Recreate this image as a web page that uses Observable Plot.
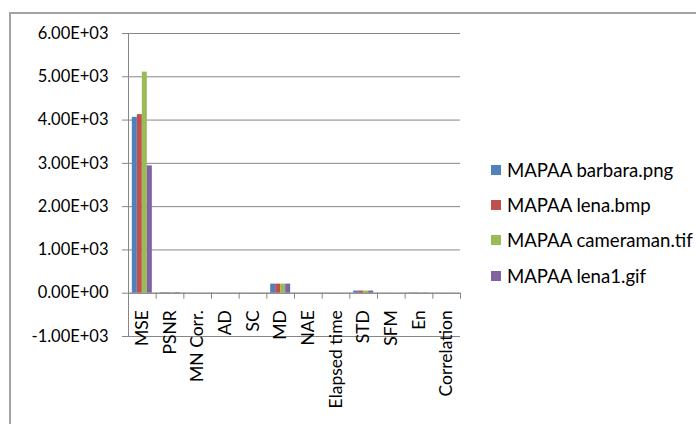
<!DOCTYPE html>
<html>
<head>
<meta charset="utf-8">
<script src="https://cdn.jsdelivr.net/npm/d3@7"></script>
<script src="https://cdn.jsdelivr.net/npm/@observablehq/plot@0.6"></script>
<style>
  html, body { margin: 0; padding: 0; background: #fff; }
  #wrap { position: relative; width: 696px; height: 424px; overflow: hidden; font-family: Lato, "Open Sans", sans-serif; }
  #chart { position: absolute; left: 0; top: 0; }
  #border { position: absolute; left: 9px; top: 12px; width: 720px; height: 440px;
            border-left: 2px solid #a3a3a3; border-top: 2px solid #a3a3a3; box-sizing: border-box; pointer-events: none; }
  #legend { position: absolute; left: 491px; top: 152px; }
  .row { display: flex; align-items: center; height: 35.3px; font-size: 18.6px; color: #000; }
  .swatch { width: 10px; height: 10px; margin-right: 6px; flex: none; }
</style>
</head>
<body>
<div id="wrap">
  <div id="chart"></div>
  <div id="border"></div>
  <div id="legend"></div>
</div>
<script>
// Image-quality metrics for four MAPAA-processed images
const categories = ["MSE", "PSNR", "MN Corr.", "AD", "SC", "MD", "NAE", "Elapsed time", "STD", "SFM", "En", "Correlation"];
const series = ["MAPAA barbara.png", "MAPAA lena.bmp", "MAPAA cameraman.tif", "MAPAA lena1.gif"];
const barbara   = [4063, 12.0, 0.9, 0.6, 1.1, 210, 0.9, 2.4, 50, 0.8, 7.3, 0.95];
const lena      = [4126, 12.0, 0.9, 0.5, 1.1, 210, 0.9, 2.1, 50, 0.8, 7.4, 0.95];
const cameraman = [5108, 11.0, 0.9, 0.7, 1.2, 210, 0.9, 2.0, 50, 0.8, 7.0, 0.94];
const lena1     = [2942, 13.4, 0.9, 0.4, 1.0, 210, 0.9, 2.2, 50, 0.8, 7.2, 0.96];
const yTicks = [-1000, 0, 1000, 2000, 3000, 4000, 5000, 6000];
const colors = ["#4F81BD", "#C0504D", "#9BBB59", "#8064A2"];

const seriesValues = [barbara, lena, cameraman, lena1];
const rows = categories.flatMap((category, i) =>
  series.map((name, j) => ({category, index: i, series: name, slot: j, value: seriesValues[j][i]}))
);

// Excel-style scientific format, e.g. 6.00E+03
function sci(v) {
  if (v === 0) return "0.00E+00";
  const e = Math.floor(Math.log10(Math.abs(v)));
  const m = (v / Math.pow(10, e)).toFixed(2);
  return `${m}E${e < 0 ? "-" : "+"}${String(Math.abs(e)).padStart(2, "0")}`;
}

// clustered bars fill the middle share of each category slot
const groupShare = 0.723;
const barShare = groupShare / series.length;
const lead = (1 - groupShare) / 2;
const gray = "#868686";

const chart = Plot.plot({
  width: 696,
  height: 424,
  marginLeft: 128,
  marginRight: 236,
  marginTop: 33,
  marginBottom: 88,
  style: {fontFamily: "Lato, 'Open Sans', sans-serif", color: "#000", background: "transparent"},
  x: {domain: [0, categories.length], axis: null},
  y: {domain: [-1000, 6000], axis: null},
  color: {domain: series, range: colors},
  marks: [
    Plot.gridY(yTicks, {stroke: gray, strokeOpacity: 1}),
    Plot.axisY(yTicks, {tickSize: 6, tickPadding: 14, tickFormat: sci, stroke: gray, fontSize: 16.5, fill: "#000", label: null}),
    Plot.ruleX([0], {stroke: gray}),
    Plot.rectY(rows, {
      x1: d => d.index + lead + d.slot * barShare,
      x2: d => d.index + lead + (d.slot + 1) * barShare,
      y1: 0,
      y2: "value",
      fill: "series"
    }),
    Plot.ruleY([0], {stroke: gray}),
    Plot.ruleX(d3.range(categories.length + 1), {x: d => d, y1: 0, y2: 0, insetBottom: -6, stroke: gray}),
    Plot.text(categories, {
      x: (d, i) => i + 0.5,
      y: 0,
      dy: 17,
      rotate: -90,
      textAnchor: "end",
      lineAnchor: "middle",
      text: d => d,
      fontSize: 17.5,
      fill: "#000"
    })
  ]
});
document.getElementById("chart").append(chart);

// legend to the right of the plot
const legend = d3.select("#legend");
series.forEach((name, j) => {
  const row = legend.append("div").attr("class", "row");
  row.append("div").attr("class", "swatch").style("background", colors[j]);
  row.append("span").text(name);
});
</script>
</body>
</html>
